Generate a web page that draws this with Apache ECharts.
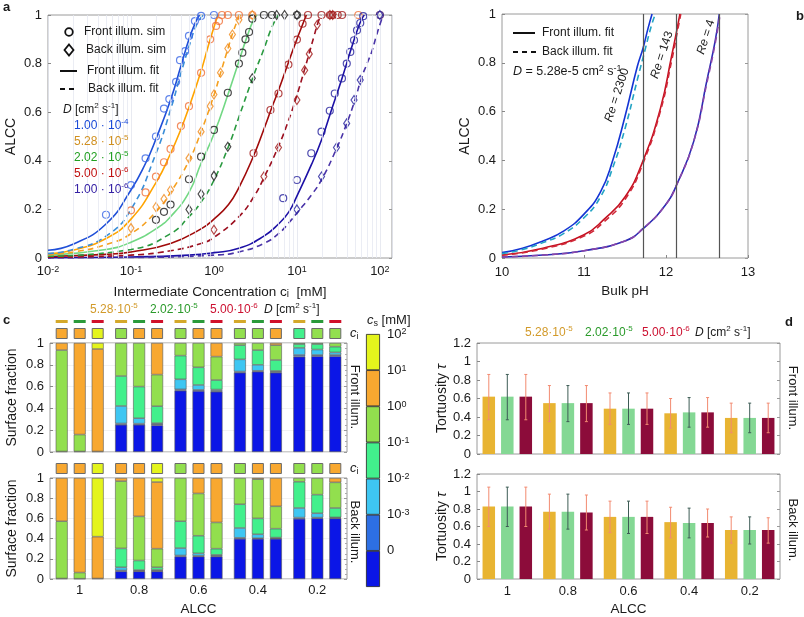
<!DOCTYPE html>
<html><head><meta charset="utf-8">
<script src="https://cdn.jsdelivr.net/npm/echarts@6/dist/echarts.min.js"></script>
<style>html,body{margin:0;padding:0;background:#fff}#c{width:804px;height:617px}</style>
</head><body><div id="c"></div>
<script>
// ================= DATA =================
// Panel a: fits [c_i (mM), ALCC]
const fitF1 = [[0.01,0.032],[0.02,0.057],[0.05,0.14],[0.1,0.28],[0.15,0.39],[0.2,0.49],[0.3,0.65],[0.4,0.79],[0.5,0.90],[0.6,0.97],[0.67,1.0]];
const fitB1 = [[0.01,0.018],[0.02,0.035],[0.05,0.09],[0.1,0.20],[0.2,0.43],[0.3,0.61],[0.4,0.76],[0.5,0.87],[0.6,0.95],[0.7,0.99],[0.75,1.0]];
const fitF2 = [[0.01,0.017],[0.02,0.032],[0.05,0.08],[0.1,0.16],[0.2,0.31],[0.3,0.43],[0.4,0.53],[0.5,0.62],[0.7,0.77],[0.85,0.87],[1.0,0.95],[1.12,1.0]];
const fitB2 = [[0.01,0.013],[0.02,0.024],[0.05,0.055],[0.1,0.10],[0.2,0.19],[0.3,0.27],[0.5,0.40],[0.7,0.52],[1.0,0.67],[1.2,0.76],[1.5,0.87],[1.7,0.93],[2.0,0.99],[2.1,1.0]];
const fitF3 = [[0.01,0.011],[0.05,0.035],[0.1,0.065],[0.2,0.12],[0.3,0.17],[0.5,0.27],[0.7,0.39],[1.0,0.51],[1.5,0.68],[2.0,0.81],[2.5,0.91],[3.0,0.98],[3.3,1.0]];
const fitB3 = [[0.01,0.007],[0.1,0.035],[0.3,0.10],[0.5,0.17],[0.7,0.23],[1.0,0.32],[1.5,0.46],[2.0,0.58],[3.0,0.75],[4.0,0.86],[5.0,0.95],[6.0,1.0]];
const fitF4 = [[0.01,0.006],[0.05,0.015],[0.1,0.025],[0.3,0.06],[0.7,0.12],[1.0,0.16],[1.5,0.22],[2.0,0.29],[3.0,0.42],[4.0,0.53],[5.0,0.62],[6.0,0.69],[8.0,0.81],[10,0.90],[12,0.97],[13,1.0]];
const fitB4 = [[0.01,0.003],[0.1,0.012],[0.3,0.03],[0.7,0.06],[1.0,0.085],[2.0,0.17],[3.0,0.25],[4.0,0.33],[6.0,0.46],[8.0,0.57],[10,0.67],[12,0.76],[14,0.84],[16,0.91],[18,0.97],[19.5,1.0]];
const fitF5 = [[0.01,0.001],[0.1,0.004],[0.5,0.012],[1,0.022],[2,0.04],[4,0.09],[6,0.14],[8,0.19],[10,0.255],[15,0.385],[20,0.49],[25,0.59],[35,0.74],[45,0.86],[55,0.95],[62,0.99],[65,1.0]];
const fitB5 = [[0.01,0.0005],[0.1,0.002],[1,0.012],[2,0.025],[4,0.06],[6,0.10],[8,0.145],[10,0.185],[15,0.26],[20,0.325],[30,0.45],[40,0.555],[50,0.65],[60,0.74],[70,0.80],[80,0.85],[90,0.91],[100,0.96],[110,1.0]];
// Panel a: simulations
const simF1 = [[0.05,0.178],[0.1,0.30],[0.15,0.41],[0.2,0.50],[0.25,0.615],[0.29,0.654],[0.35,0.725],[0.39,0.814],[0.45,0.851],[0.5,0.914],[0.59,0.975],[0.7,0.996],[1.0,1.0]];
const simF2 = [[0.1,0.196],[0.15,0.27],[0.2,0.335],[0.25,0.394],[0.3,0.449],[0.4,0.543],[0.5,0.625],[0.7,0.762],[0.9,0.90],[1.06,0.955],[1.15,0.975],[1.25,1],[1.47,1],[2.0,1],[2.9,1],[55,1],[100,1]];
const simB2 = [[0.1,0.123],[0.2,0.21],[0.25,0.243],[0.3,0.28],[0.5,0.41],[0.7,0.52],[0.9,0.625],[1.0,0.673],[1.2,0.762],[1.47,0.862],[1.67,0.92],[2.0,0.98],[2.9,1]];
const simF3 = [[0.2,0.157],[0.25,0.19],[0.3,0.22],[0.5,0.324],[0.7,0.417],[1.0,0.527],[1.47,0.68],[2.0,0.80],[2.2,0.845],[2.4,0.90],[2.65,0.93],[2.9,0.985],[4.0,1],[5.0,1],[10,1]];
const simB3 = [[0.5,0.20],[0.7,0.263],[1.0,0.338],[1.47,0.458],[2.9,0.74],[5.7,1],[7.1,1],[10,1]];
const simF4 = [[3.0,0.431],[4.8,0.609],[6.0,0.677],[7.9,0.796],[10,0.899],[11.7,0.964],[13.6,1],[19.8,1],[25,1],[27,1],[31,1],[35,1]];
const simB4 = [[1.0,0.116],[4.0,0.335],[6.0,0.455],[10,0.65],[12.4,0.773],[14.1,0.84],[17.6,0.96],[25,1],[27,1]];
const simF5 = [[6.84,0.246],[10,0.321],[14.9,0.431],[19.8,0.52],[24.9,0.606],[28.6,0.677],[34.9,0.739],[39.9,0.80],[44,0.848],[48.8,0.896],[53,0.937],[58,0.967],[63,0.995],[100,1]];
const simB5 = [[10,0.20],[19.8,0.335],[30,0.455],[39.8,0.554],[48.8,0.65],[58,0.732],[100,1]];

// Panel b: [bulk pH, ALCC]
const pbF2300 = [[10,0.022],[10.25,0.04],[10.5,0.07],[10.75,0.11],[11,0.18],[11.2,0.27],[11.35,0.40],[11.5,0.58],[11.65,0.785],[11.72,0.86],[11.78,0.94],[11.83,1.0]];
const pbB2300 = [[10,0.018],[10.25,0.035],[10.5,0.063],[10.75,0.10],[11,0.165],[11.2,0.25],[11.35,0.37],[11.5,0.53],[11.65,0.73],[11.75,0.86],[11.82,0.95],[11.87,1.0]];
const pbF143 = [[10,0.012],[10.5,0.04],[11,0.095],[11.25,0.16],[11.5,0.25],[11.71,0.39],[11.93,0.61],[12.07,0.83],[12.13,0.93],[12.17,1.0]];
const pbB143 = [[10,0.011],[10.5,0.037],[11,0.09],[11.25,0.15],[11.5,0.24],[11.71,0.38],[11.93,0.60],[12.07,0.81],[12.14,0.93],[12.18,1.0]];
const pbF4 = [[10,0.004],[10.5,0.012],[11,0.03],[11.5,0.07],[11.72,0.12],[12,0.22],[12.13,0.30],[12.34,0.48],[12.5,0.73],[12.6,0.89],[12.65,1.0]];
const pbB4 = [[10,0.004],[10.5,0.012],[11,0.03],[11.5,0.07],[11.72,0.12],[12,0.22],[12.13,0.30],[12.34,0.48],[12.5,0.72],[12.6,0.88],[12.66,1.0]];
const reLines = [11.72, 12.13, 12.65];

// Panel c: surface fractions per ALCC group, bins [<0, 0-1e-3, 1e-3-1e-2, 1e-2-1e-1, 1e-1-1, 1-10, 10-100]
const alccCats = ['1', '0.8', '0.6', '0.4', '0.2'];
const frontD1 = [[0.005,0,0,0,0.93,0.065,0],[0.25,0.012,0.16,0.275,0.303,0,0],[0.563,0.012,0.092,0.217,0.116,0,0],[0.728,0.01,0.112,0.13,0.02,0,0],[0.875,0.015,0.065,0.035,0.01,0,0]];
const frontD2 = [[0.005,0,0,0,0.155,0.84,0],[0.25,0.01,0.05,0.29,0.40,0,0],[0.56,0.01,0.045,0.162,0.223,0,0],[0.737,0.008,0.055,0.135,0.065,0,0],[0.88,0.01,0.05,0.05,0.01,0,0]];
const frontD3 = [[0.005,0,0,0,0,0.94,0.055],[0.245,0.01,0.01,0.155,0.29,0.29,0],[0.553,0.01,0.01,0.087,0.215,0.125,0],[0.728,0.008,0.008,0.10,0.136,0.02,0],[0.88,0.01,0.024,0.052,0.034,0,0]];
const backD1 = [[0.005,0,0,0,0.567,0.428,0],[0.076,0.009,0.031,0.187,0.666,0.031,0],[0.223,0.01,0.073,0.266,0.428,0,0],[0.398,0.01,0.097,0.235,0.26,0,0],[0.596,0.012,0.095,0.26,0.037,0,0]];
const backD2 = [[0.003,0,0,0,0.061,0.936,0],[0.076,0.005,0.008,0.094,0.437,0.38,0],[0.223,0.006,0.025,0.174,0.419,0.153,0],[0.398,0.006,0.039,0.157,0.388,0.012,0],[0.602,0.006,0.043,0.184,0.165,0,0]];
const backD3 = [[0.005,0,0,0,0,0.414,0.581],[0.076,0.005,0.009,0.026,0.184,0.66,0.04],[0.223,0.006,0.01,0.061,0.26,0.44,0],[0.398,0.006,0.006,0.088,0.222,0.28,0],[0.6,0.005,0.005,0.093,0.254,0.043,0]];
// c_i bin index per group for [D1, D2, D3]
const ciFront = [[5,5,6],[4,5,5],[4,5,5],[4,4,5],[3,4,4]];
const ciBack  = [[5,5,6],[5,5,6],[4,5,5],[4,5,5],[4,4,5]];
const cbLabels = ['', '0', '10{sup|-3}', '10{sup|-2}', '10{sup|-1}', '10{sup|0}', '10{sup|1}', '10{sup|2}'];

// Panel d: tortuosity per ALCC group
const tauF1 = [0.62,0.55,0.49,0.44,0.39], tauF1lo = [0.37,0.35,0.32,0.28,0.23], tauF1hi = [0.86,0.74,0.66,0.60,0.55];
const tauF2 = [0.62,0.55,0.49,0.45,0.39], tauF2lo = [0.37,0.35,0.32,0.29,0.23], tauF2hi = [0.86,0.74,0.66,0.61,0.55];
const tauF3 = [0.62,0.55,0.49,0.45,0.39], tauF3lo = [0.37,0.35,0.32,0.29,0.23], tauF3hi = [0.86,0.74,0.66,0.61,0.55];
const tauB1 = [0.83,0.77,0.71,0.65,0.56], tauB1lo = [0.60,0.57,0.53,0.47,0.41], tauB1hi = [1.05,0.97,0.89,0.82,0.71];
const tauB2 = [0.83,0.77,0.71,0.64,0.56], tauB2lo = [0.60,0.57,0.52,0.47,0.40], tauB2hi = [1.05,0.97,0.89,0.81,0.71];
const tauB3 = [0.83,0.76,0.71,0.64,0.56], tauB3lo = [0.60,0.56,0.52,0.48,0.41], tauB3hi = [1.05,0.96,0.89,0.80,0.70];

// ================= STYLE =================
const FONT = '"Liberation Sans", Arial, Helvetica, sans-serif';
const binColors = ['#0b16e6','#2d6fe3','#3ec6f2','#42f08c','#92df4e','#f8a830','#e4f41c'];
const dDash = ['#d4a82a','#2a9a3a','#d0102a'];
const dText = ['#d29a2a','#2a9a2a','#cc1030'];
const dBar = ['#e8b432','#84d894','#8c0c3a'];
const dErr = ['#f28a70','#3d5c55','#f28a70'];

function rich(size) {
  return {
    sup: {fontSize: Math.round(size*0.68), lineHeight: Math.round(size*0.7), verticalAlign: 'top', fontFamily: FONT},
    sub: {fontSize: Math.round(size*0.72), lineHeight: Math.round(size*0.7), verticalAlign: 'bottom', fontFamily: FONT},
    i: {fontSize: size, fontStyle: 'italic', fontFamily: FONT, lineHeight: size+4}
  };
}
function T(x, y, text, o) {
  o = o || {};
  const size = o.size || 13;
  const r = rich(size);
  if (o.color) { r.sup.fill = o.color; r.sub.fill = o.color; r.i.fill = o.color; }
  return {type:'text', x:x, y:y, rotation:o.rot||0, silent:true, z:100,
    style:{text:text, fill:o.color||'#1a1a1a', fontSize:size, fontFamily:FONT,
      fontStyle:o.italic?'italic':'normal', fontWeight:o.bold?'bold':'normal',
      align:o.align||'left', verticalAlign:o.va||'middle', lineHeight:size+4, rich:r}};
}
function logLabel(v) {
  const e = Math.log10(v); const r = Math.round(e);
  if (Math.abs(e - r) > 1e-6) return '';
  return '10{sup|' + r + '}';
}

const chart = echarts.init(document.getElementById('c'));

const grids = [
  {left:48, top:15, width:344, height:243},   // 0 a
  {left:502, top:14, width:246, height:244},  // 1 b
  {left:50, top:343, width:297, height:109},  // 2 c top
  {left:50, top:478, width:297, height:109},  // 3 c bottom
  {left:50, top:328, width:297, height:11},   // 4 ci top
  {left:50, top:463, width:297, height:11},   // 5 ci bottom
  {left:50, top:320, width:297, height:3},    // 6 dashes
  {left:366, top:334, width:14, height:253},  // 7 colorbar
  {left:477, top:343, width:303, height:111}, // 8 d top
  {left:477, top:474, width:303, height:111}  // 9 d bottom
].map((g, i) => Object.assign({show: [0,1,2,3,8,9].includes(i), borderColor:'#9a9a9a', borderWidth:1, containLabel:false}, g));

const lbl = {fontSize:13, color:'#1a1a1a', fontFamily:FONT};
const nameStyle = {fontSize:13.5, color:'#1a1a1a', fontFamily:FONT, rich:rich(13.5)};
const hiddenCat = (gi) => ({gridIndex:gi, type:'category', data:alccCats, show:false});
const hiddenVal = (gi, max) => ({gridIndex:gi, type:'value', min:0, max:max, show:false});

const xAxis = [
  {gridIndex:0, type:'log', logBase:10, min:0.01, max:140,
   axisLine:{show:false}, axisTick:{show:false},
   splitLine:{show:true, lineStyle:{color:'#e2e5ee', width:0.8}},
   axisLabel:Object.assign({}, lbl, {formatter:logLabel, margin:7, showMaxLabel:false, rich:rich(13)}),
   name:'Intermediate Concentration c{sub|i}  [mM]', nameLocation:'middle', nameGap:27, nameTextStyle:nameStyle},
  {gridIndex:1, type:'value', min:10, max:13, interval:1,
   axisLine:{show:false}, axisTick:{show:true, inside:true, length:3, lineStyle:{color:'#888'}}, splitLine:{show:false},
   axisLabel:Object.assign({}, lbl, {margin:8}),
   name:'Bulk pH', nameLocation:'middle', nameGap:26, nameTextStyle:nameStyle},
  {gridIndex:2, type:'category', data:alccCats, axisLine:{show:false}, axisTick:{show:false}, axisLabel:{show:false}},
  {gridIndex:3, type:'category', data:alccCats, axisLine:{show:false}, axisTick:{show:false},
   axisLabel:Object.assign({}, lbl, {margin:5}),
   name:'ALCC', nameLocation:'middle', nameGap:23, nameTextStyle:nameStyle},
  hiddenCat(4), hiddenCat(5), hiddenCat(6),
  {gridIndex:7, type:'category', data:['cb'], show:false},
  {gridIndex:8, type:'category', data:alccCats, axisLine:{show:false}, axisTick:{show:false}, axisLabel:{show:false}},
  {gridIndex:9, type:'category', data:alccCats, axisLine:{show:false}, axisTick:{show:false},
   axisLabel:Object.assign({}, lbl, {margin:6}),
   name:'ALCC', nameLocation:'middle', nameGap:23, nameTextStyle:nameStyle}
];
const valY = (gi, max, interval, name, gap) => ({gridIndex:gi, type:'value', min:0, max:max, interval:interval,
  axisLine:{show:false}, axisTick:{show:true, inside:true, length:3, lineStyle:{color:'#888'}}, splitLine:{show:false},
  axisLabel:Object.assign({}, lbl, {margin:6}),
  name:name, nameLocation:'middle', nameGap:gap, nameRotate:90, nameTextStyle:Object.assign({}, nameStyle, {fontSize:14, rich:rich(14)})});
const rightTicks = (gi, max, interval, minor) => ({gridIndex:gi, type:'value', min:0, max:max, interval:interval, position:'right',
  axisLine:{show:false}, axisLabel:{show:false}, splitLine:{show:false},
  axisTick:{show:true, inside:true, length:3, lineStyle:{color:'#999'}},
  minorTick:{show:!!minor, splitNumber:minor||5, length:2, lineStyle:{color:'#aaa'}}});
const yAxis = [
  valY(0, 1, 0.2, 'ALCC', 30),
  valY(1, 1, 0.2, 'ALCC', 30),
  Object.assign(valY(2, 1, 0.2, 'Surface fraction', 31), {splitLine:{show:true, lineStyle:{color:'#efefef', width:0.8}}}),
  Object.assign(valY(3, 1, 0.2, 'Surface fraction', 31), {splitLine:{show:true, lineStyle:{color:'#efefef', width:0.8}}}),
  hiddenVal(4, 1), hiddenVal(5, 1), hiddenVal(6, 1),
  {gridIndex:7, type:'value', min:0, max:7, interval:1, position:'right',
   axisLine:{show:false}, axisTick:{show:false}, splitLine:{show:false},
   axisLabel:Object.assign({}, lbl, {margin:7, formatter:(v) => cbLabels[Math.round(v)] || '', rich:rich(13)})},
  valY(8, 1.2, 0.2, 'Tortuosity {i|τ}', 25),
  valY(9, 1.2, 0.2, 'Tortuosity {i|τ}', 25),
  rightTicks(0, 1, 0.2), rightTicks(1, 1, 0.2),
  rightTicks(2, 1, 0.2, 4), rightTicks(3, 1, 0.2, 4),
  rightTicks(8, 1.2, 0.2), rightTicks(9, 1.2, 0.2)
];

const series = [];
// Panel a minor grid lines
const minorA = [];
for (let k = -2; k <= 2; k++) for (let m = 2; m <= 9; m++) { const v = m * Math.pow(10, k); if (v < 140) minorA.push({xAxis: v}); }
series.push({type:'scatter', xAxisIndex:0, yAxisIndex:0, data:[], z:0, silent:true,
  markLine:{silent:true, symbol:'none', label:{show:false}, animation:false,
    lineStyle:{color:'#e6e9f1', width:0.8, type:'solid'}, data:minorA}});

function fit(data, color, dashed, gi, w) {
  return {type:'line', xAxisIndex:gi, yAxisIndex:gi, data:data, showSymbol:false, symbol:'none',
    smooth:0.5, silent:true, z:3,
    lineStyle:{color:color, width:w||1.6, type:dashed?[6,4]:'solid'}};
}
function sim(data, color, diamond) {
  return {type:'scatter', xAxisIndex:0, yAxisIndex:0, data:data, silent:true, z:4,
    symbol:diamond?'diamond':'circle', symbolSize:diamond?[6,9]:7,
    itemStyle:{color:'rgba(0,0,0,0)', borderColor:color, borderWidth:1.2}};
}
series.push(
  fit(fitF5, '#1c10a6', false, 0), fit(fitB5, '#4a34a8', true, 0),
  fit(fitF4, '#a00a0a', false, 0), fit(fitB4, '#9c1020', true, 0),
  fit(fitF3, '#72d884', false, 0), fit(fitB3, '#2a9a40', true, 0),
  fit(fitF2, '#ffa400', false, 0), fit(fitB2, '#f5a020', true, 0),
  fit(fitB1, '#3a8ed8', true, 0), fit(fitF1, '#1f4fd8', false, 0),
  sim(simF1, '#3a66e6'), sim(simF2, '#f07038'), sim(simB2, '#f08a1c', true),
  sim(simF3, '#1a1a1a'), sim(simB3, '#1a1a1a', true),
  sim(simF4, '#a01818'), sim(simB4, '#a01818', true),
  sim(simF5, '#24209c'), sim(simB5, '#24209c', true)
);

// Panel b
series.push({type:'scatter', xAxisIndex:1, yAxisIndex:1, data:[], z:5, silent:true,
  markLine:{silent:true, symbol:'none', label:{show:false}, animation:false,
    lineStyle:{color:'#555', width:1.2, type:'solid'}, data:reLines.map(v => ({xAxis:v}))}});
series.push(
  fit(pbF4, '#2a2ab4', false, 1), fit(pbB4, '#8a46a8', true, 1),
  fit(pbF143, '#c41020', false, 1), fit(pbB143, '#d02838', true, 1),
  fit(pbF2300, '#1434d4', false, 1), fit(pbB2300, '#24a4c4', true, 1)
);

// Panel c stacked bars
function stackSeries(gi, dSets, tag) {
  dSets.forEach((set, d) => {
    for (let b = 0; b < 7; b++) {
      series.push({type:'bar', xAxisIndex:gi, yAxisIndex:gi, stack:tag + d, barWidth:12, barGap:'50%', silent:true,
        data:set.map(g => g[b] > 0 ? g[b] : null),
        itemStyle:{color:binColors[b], borderColor:'#5a5a5a', borderWidth:0.6}});
    }
  });
}
stackSeries(2, [frontD1, frontD2, frontD3], 'f');
stackSeries(3, [backD1, backD2, backD3], 'b');
function ciSeries(gi, ci) {
  for (let d = 0; d < 3; d++) {
    series.push({type:'bar', xAxisIndex:gi, yAxisIndex:gi, barWidth:12, barGap:'50%', silent:true,
      data:ci.map(g => ({value:1, itemStyle:{color:binColors[g[d]]}})),
      itemStyle:{borderColor:'#6a6a6a', borderWidth:1}});
  }
}
ciSeries(4, ciFront);
ciSeries(5, ciBack);
for (let d = 0; d < 3; d++) {
  series.push({type:'bar', xAxisIndex:6, yAxisIndex:6, barWidth:12, barGap:'50%', silent:true,
    data:alccCats.map(() => 1), itemStyle:{color:dDash[d]}});
}
// colorbar
for (let b = 0; b < 7; b++) {
  series.push({type:'bar', xAxisIndex:7, yAxisIndex:7, stack:'cb', barWidth:'100%', silent:true,
    data:[1], itemStyle:{color:binColors[b], borderColor:'#222', borderWidth:0.8}});
}

// Panel d
function tauSeries(gi, vals, los, his) {
  vals.forEach((v, d) => {
    series.push({type:'bar', xAxisIndex:gi, yAxisIndex:gi, barWidth:12.5, barGap:'48%', silent:true,
      data:v, itemStyle:{color:dBar[d]}});
  });
  vals.forEach((v, d) => {
    series.push({type:'custom', xAxisIndex:gi, yAxisIndex:gi, silent:true, z:5,
      data:los[d].map((lo, k) => [k, lo, his[d][k]]), encode:{x:0, y:[1,2]},
      renderItem:(params, api) => {
        const i = api.value(0);
        const p1 = api.coord([i, api.value(1)]);
        const p2 = api.coord([i, api.value(2)]);
        const x = p1[0] + (d - 1) * 18.5;
        const st = {stroke:dErr[d], lineWidth:1};
        return {type:'group', children:[
          {type:'line', shape:{x1:x, y1:p1[1], x2:x, y2:p2[1]}, style:st},
          {type:'line', shape:{x1:x-1.5, y1:p1[1], x2:x+1.5, y2:p1[1]}, style:st},
          {type:'line', shape:{x1:x-1.5, y1:p2[1], x2:x+1.5, y2:p2[1]}, style:st}]};
      }});
  });
}
tauSeries(8, [tauF1, tauF2, tauF3], [tauF1lo, tauF2lo, tauF3lo], [tauF1hi, tauF2hi, tauF3hi]);
tauSeries(9, [tauB1, tauB2, tauB3], [tauB1lo, tauB2lo, tauB3lo], [tauB1hi, tauB2hi, tauB3hi]);

// ================= GRAPHIC TEXT =================
const G = [];
G.push(T(3, 7, 'a', {bold:true, size:13}), T(796, 16, 'b', {bold:true, size:13}),
       T(3, 320, 'c', {bold:true, size:13}), T(785, 322, 'd', {bold:true, size:13}));
// panel a legend
G.push({type:'circle', silent:true, z:100, shape:{cx:69, cy:32, r:3.8}, style:{fill:'none', stroke:'#111', lineWidth:1.8}});
G.push({type:'polygon', silent:true, z:100, shape:{points:[[69,44.5],[73.5,50],[69,55.5],[64.5,50]]}, style:{fill:'none', stroke:'#111', lineWidth:1.8}});
G.push({type:'line', silent:true, z:100, shape:{x1:60, y1:71, x2:77, y2:71}, style:{stroke:'#111', lineWidth:2}});
G.push({type:'line', silent:true, z:100, shape:{x1:60, y1:89, x2:78, y2:89}, style:{stroke:'#111', lineWidth:2, lineDash:[5,4]}});
G.push(T(84, 32, 'Front illum. sim', {size:12}), T(86, 50, 'Back illum. sim', {size:12}),
       T(87, 71, 'Front illum. fit', {size:12}), T(88, 89, 'Back illum. fit', {size:12}));
G.push(T(63, 110, '{i|D} [cm{sup|2} s{sup|-1}]', {size:12}));
const aLeg = [['1.00 · 10{sup|-4}', '#1a4ad8'], ['5.28 · 10{sup|-5}', '#d09020'], ['2.02 · 10{sup|-5}', '#22a022'],
              ['5.00 · 10{sup|-6}', '#c01010'], ['1.00 · 10{sup|-6}', '#3420a4']];
aLeg.forEach((l, k) => G.push(T(74, 126 + 16 * k, l[0], {size:12, color:l[1]})));
// panel b legend + labels
G.push({type:'line', silent:true, z:100, shape:{x1:513, y1:33, x2:535, y2:33}, style:{stroke:'#111', lineWidth:2}});
G.push({type:'line', silent:true, z:100, shape:{x1:513, y1:52, x2:536, y2:52}, style:{stroke:'#111', lineWidth:2, lineDash:[5,4]}});
G.push(T(542, 33, 'Front illum. fit', {size:12}), T(542, 52, 'Back illum. fit', {size:12}));
G.push(T(513, 72, '{i|D} = 5.28e-5 cm{sup|2} s{sup|-1}', {size:12.5}));
G.push(T(617, 95, '{i|Re} = 2300', {size:12, align:'center', rot:1.257}));
G.push(T(662, 55, '{i|Re} = 143', {size:12, align:'center', rot:1.257}));
G.push(T(706, 37, '{i|Re} = 4', {size:12, align:'center', rot:1.257}));
// panel c header
G.push(T(90, 310, '5.28·10{sup|-5}', {size:12, color:dText[0]}), T(150, 310, '2.02·10{sup|-5}', {size:12, color:dText[1]}),
       T(210, 310, '5.00·10{sup|-6}', {size:12, color:dText[2]}), T(264, 310, '{i|D} [cm{sup|2} s{sup|-1}]', {size:12}));
G.push(T(350, 333, '{i|c}{sub|i}'), T(350, 468, '{i|c}{sub|i}'));
G.push(T(367, 320, '{i|c}{sub|s} [mM]'));
G.push(T(355, 397, 'Front illum.', {align:'center', rot:-Math.PI/2}), T(355, 532, 'Back illum.', {align:'center', rot:-Math.PI/2}));
// panel d header
G.push(T(525, 333, '5.28·10{sup|-5}', {size:12, color:dText[0]}), T(585, 333, '2.02·10{sup|-5}', {size:12, color:dText[1]}),
       T(642, 333, '5.00·10{sup|-6}', {size:12, color:dText[2]}), T(695, 333, '{i|D} [cm{sup|2} s{sup|-1}]', {size:12}));
G.push(T(793, 398, 'Front illum.', {align:'center', rot:-Math.PI/2}), T(793, 530, 'Back illum.', {align:'center', rot:-Math.PI/2}));

chart.setOption({
  animation:false, backgroundColor:'#ffffff', textStyle:{fontFamily:FONT},
  grid:grids, xAxis:xAxis, yAxis:yAxis, series:series, graphic:{elements:G}
});
</script></body></html>
